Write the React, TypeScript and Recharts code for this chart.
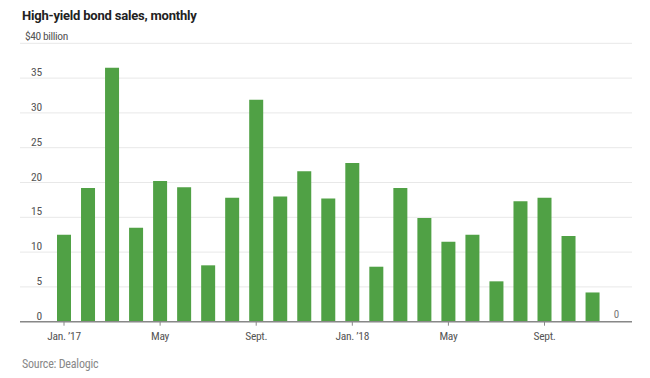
import React from 'react';
import { BarChart, Bar, XAxis, YAxis, CartesianGrid } from 'recharts';

const months = [
  '2017-01', '2017-02', '2017-03', '2017-04', '2017-05', '2017-06',
  '2017-07', '2017-08', '2017-09', '2017-10', '2017-11', '2017-12',
  '2018-01', '2018-02', '2018-03', '2018-04', '2018-05', '2018-06',
  '2018-07', '2018-08', '2018-09', '2018-10', '2018-11', '2018-12',
];

// billions of dollars
const sales = [
  12.5, 19.2, 36.5, 13.5, 20.2, 19.3, 8.1, 17.8, 31.9, 18.0, 21.6, 17.7,
  22.8, 7.9, 19.2, 14.9, 11.5, 12.5, 5.8, 17.3, 17.8, 12.3, 4.2, 0,
];

const monthLabels = [
  'Jan. ’17', '', '', '', 'May', '', '', '', 'Sept.', '', '', '',
  'Jan. ’18', '', '', '', 'May', '', '', '', 'Sept.', '', '', '',
];

const yTicks = [0, 5, 10, 15, 20, 25, 30, 35, 40];

const data = months.map((m, i) => ({ month: m, value: sales[i] }));

const LABEL_FONT = "'Liberation Sans Narrow', 'Roboto Condensed', Roboto, sans-serif";
const TITLE_FONT = "Roboto, 'Liberation Sans', sans-serif";
const GREEN = '#50a145';

const YTick = (props: any) => {
  const { y, payload } = props;
  if (payload.value === 40) {
    return (
      <text x={25} y={y - 3} fontSize={11.5} fill="#555" fontFamily={LABEL_FONT} letterSpacing={-0.4}>
        $40 billion
      </text>
    );
  }
  return (
    <text x={42} y={y - 2} textAnchor="end" fontSize={11.5} fill="#555" fontFamily={LABEL_FONT} letterSpacing={-0.2}>
      {payload.value}
    </text>
  );
};

const XTick = (props: any) => {
  const { x, y, index } = props;
  const label = monthLabels[index];
  return (
    <g>
      {sales[index] === 0 && (
        <text x={x} y={y - 11.5} textAnchor="middle" fontSize={11} fill="#777" fontFamily={LABEL_FONT}>
          0
        </text>
      )}
      {label && (
        <>
          <line x1={x} x2={x} y1={y - 8} y2={y - 4} stroke="#888" strokeWidth={1} />
          <text x={x} y={y + 10} textAnchor="middle" fontSize={11.5} fill="#555" fontFamily={LABEL_FONT} letterSpacing={-0.3}>
            {label}
          </text>
        </>
      )}
    </g>
  );
};

export default function App() {
  return (
    <div style={{ position: 'absolute', left: 0, top: 0, width: 650, height: 378, background: '#fff' }}>
      <svg width={650} height={378} style={{ position: 'absolute', left: 0, top: 0 }}>
        <text x={22} y={19.5} fontSize={13} fontWeight="bold" fill="#222" fontFamily={TITLE_FONT} letterSpacing={-0.2}>
          High-yield bond sales, monthly
        </text>
        <text x={22} y={368} fontSize={12} fill="#888" fontFamily={LABEL_FONT} letterSpacing={-0.2}>
          Source: Dealogic
        </text>
      </svg>
      <div style={{ position: 'absolute', left: 0, top: 0 }}>
        <BarChart
          width={650}
          height={378}
          data={data}
          margin={{ top: 43.3, right: 18, left: 19, bottom: 26.3 }}
          barSize={14}
        >
          <CartesianGrid vertical={false} stroke="#e8e8e8" />
          <XAxis
            dataKey="month"
            interval={0}
            height={30}
            padding={{ left: 32, right: 3.4 }}
            axisLine={{ stroke: '#888', strokeWidth: 1.5 }}
            tickLine={false}
            tick={<XTick />}
          />
          <YAxis
            width={1}
            domain={[0, 40]}
            ticks={yTicks}
            interval={0}
            axisLine={false}
            tickLine={false}
            tick={<YTick />}
          />
          <Bar dataKey="value" fill={GREEN} isAnimationActive={false} />
        </BarChart>
      </div>
    </div>
  );
}
